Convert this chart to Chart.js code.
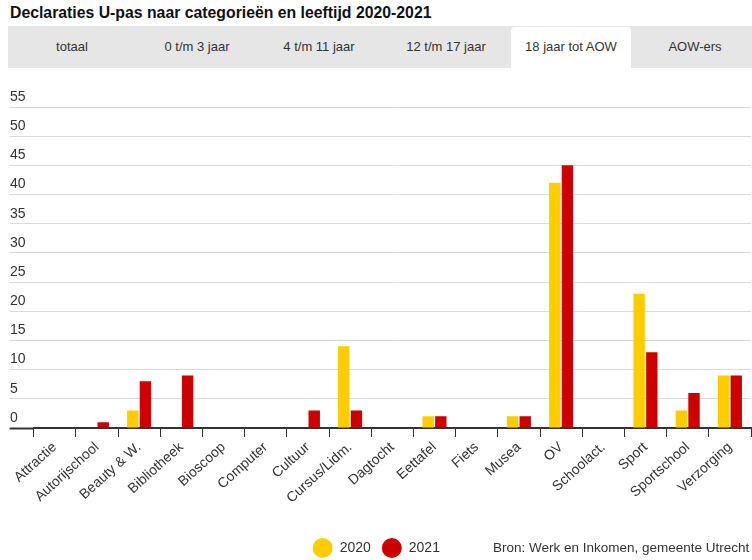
<!DOCTYPE html>
<html>
<head>
<meta charset="utf-8">
<script src="https://cdn.jsdelivr.net/npm/chart.js@4/dist/chart.umd.min.js"></script>
<style>
  html, body { margin: 0; padding: 0; background: #fff; overflow: hidden; }
  body { width: 752px; height: 560px; position: relative; font-family: "Liberation Sans", Arial, sans-serif; }
  #title { position: absolute; left: 10px; top: 4px; font-size: 15.8px; font-weight: bold; color: #111; white-space: nowrap; }
  #tabs { position: absolute; left: 8px; top: 26px; width: 744px; height: 42px; background: #e6e6e6; }
  .tab { position: absolute; top: 0; height: 42px; line-height: 42px; font-size: 13px; color: #333; text-align: center; white-space: nowrap; transform: translateX(-50%); }
  #active { position: absolute; left: 511px; top: 27px; width: 120px; height: 44px; background: #fff; border-radius: 4px 4px 0 0; }
  #source { position: absolute; left: 493px; top: 540px; font-size: 13.5px; color: #333; white-space: nowrap; }
  #wrap { position: absolute; left: 0; top: 0; width: 752px; height: 565px; }
</style>
</head>
<body>
<div id="title">Declaraties U-pas naar categorieën en leeftijd 2020-2021</div>
<div id="tabs"></div>
<div id="active"></div>
<div id="tablabels"></div>
<div id="wrap"><canvas id="chart" width="752" height="565"></canvas></div>
<div id="source">Bron: Werk en Inkomen, gemeente Utrecht</div>
<script>
// Age-group tabs shown above the chart
const tabLabels = ["totaal", "0 t/m 3 jaar", "4 t/m 11 jaar", "12 t/m 17 jaar", "18 jaar tot AOW", "AOW-ers"];
const tabCenters = [72, 197, 319, 446, 571, 695];

// Declaration categories
const categories = ["Attractie", "Autorijschool", "Beauty & W.", "Bibliotheek", "Bioscoop", "Computer",
  "Cultuur", "Cursus/Lidm.", "Dagtocht", "Eettafel", "Fiets", "Musea", "OV", "Schoolact.",
  "Sport", "Sportschool", "Verzorging"];

// Number of declarations, 18 jaar tot AOW
const values2020 = [0, 0, 3, 0, 0, 0, 0, 14, 0, 2, 0, 2, 42, 0, 23, 3, 9];
const values2021 = [0, 1, 8, 9, 0, 0, 3, 3, 0, 2, 0, 2, 45, 0, 13, 6, 9];

const seriesNames = ["2020", "2021"];
const yMax = 55;
const yStep = 5;

const tabBox = document.getElementById("tablabels");
tabLabels.forEach((t, i) => {
  const el = document.createElement("div");
  el.className = "tab";
  el.textContent = t;
  el.style.left = tabCenters[i] + "px";
  el.style.top = "26px";
  tabBox.appendChild(el);
});

const font = "'Liberation Sans', Arial, sans-serif";

new Chart(document.getElementById("chart"), {
  type: "bar",
  data: {
    labels: categories,
    datasets: [
      { label: seriesNames[0], data: values2020, backgroundColor: "#ffcc00", borderWidth: 0,
        barPercentage: 0.9, categoryPercentage: 0.6 },
      { label: seriesNames[1], data: values2021, backgroundColor: "#cc0000", borderWidth: 0,
        barPercentage: 0.9, categoryPercentage: 0.6 }
    ]
  },
  options: {
    responsive: false,
    devicePixelRatio: 1,
    animation: false,
    events: [],
    layout: { padding: { left: 1.6, right: 1, top: 107, bottom: 0 } },
    plugins: {
      tooltip: { enabled: false },
      legend: {
        position: "bottom",
        align: "center",
        labels: {
          usePointStyle: true,
          pointStyle: "circle",
          pointStyleWidth: 20,
          boxHeight: 14,
          padding: 11,
          color: "#333",
          font: { family: font, size: 14 }
        }
      }
    },
    scales: {
      x: {
        grid: {
          drawOnChartArea: false,
          drawTicks: true,
          tickLength: 9,
          tickColor: "#333",
          tickWidth: 1,
          offset: true
        },
        border: { display: true, color: "#333", width: 2 },
        ticks: {
          autoSkip: false,
          minRotation: 42,
          maxRotation: 42,
          padding: 2,
          color: "#333",
          font: { family: font, size: 14 }
        },
        afterFit(scale) { scale.height = 102; }
      },
      y: {
        min: 0,
        max: yMax,
        grid: {
          color: "#dadada",
          lineWidth: 1,
          drawTicks: true,
          tickLength: 24,
          tickColor: (ctx) => (ctx.tick && ctx.tick.value === 0 ? "#333" : "#dadada"),
          tickWidth: (ctx) => (ctx.tick && ctx.tick.value === 0 ? 2 : 1)
        },
        border: { display: false },
        ticks: {
          stepSize: yStep,
          mirror: true,
          padding: -23.6,
          labelOffset: -10,
          color: "#333",
          font: { family: font, size: 14 }
        },
        afterFit(scale) { scale.width = 32; }
      }
    }
  }
});
</script>
</body>
</html>
